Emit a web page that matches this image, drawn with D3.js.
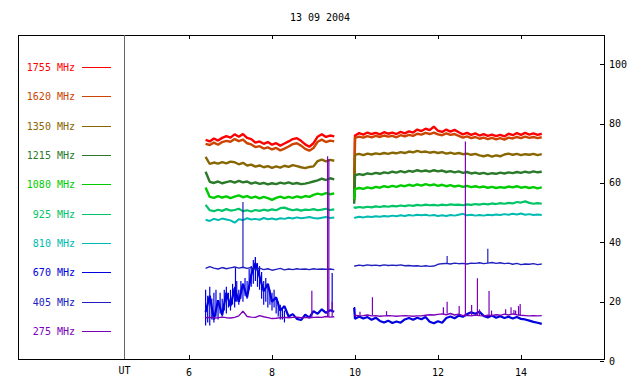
<!DOCTYPE html>
<html>
<head>
<meta charset="utf-8">
<script src="https://cdn.jsdelivr.net/npm/d3@7"></script>
<style>
  body { margin: 0; background: #fff; }
  text { font-family: "DejaVu Sans Mono", monospace; font-size: 10px; }
</style>
</head>
<body>
<script>
// canvas and frame magic numbers
var w = 640;
var h = 384;
var frameLeft = 18, frameRight = 604, frameTop = 35, frameBottom = 359;
var sepX = 124;

// chart data
var title = "13 09 2004";
var freqs = ["1755", "1620", "1350", "1215", "1080", "925", "810", "670", "405", "275"];
var colors = ["#ff0000", "#cc4400", "#886600", "#2a7a2a", "#00cc00", "#00c466", "#00bbb0", "#0000e0", "#2020c0", "#7a00bb"];
var widths = [2.4, 2.4, 2.4, 2.4, 2.4, 2.2, 2.0, 2.2, 1.4, 1.4];
var xTicks = [6, 8, 10, 12, 14];
var yTicks = [0, 20, 40, 60, 80, 100];

// UT hours, first and second recording block
var t1 = [6.4, 6.5, 6.6, 6.7, 6.8, 6.9, 7.0, 7.1, 7.2, 7.3, 7.4, 7.5, 7.6, 7.7, 7.8, 7.9,
          8.0, 8.1, 8.2, 8.3, 8.4, 8.5, 8.6, 8.7, 8.8, 8.9, 9.0, 9.1, 9.2, 9.3, 9.4, 9.5];
var t2 = [9.98, 10.0, 10.1, 10.2, 10.3, 10.4, 10.5, 10.6, 10.7, 10.8, 10.9, 11.0, 11.1, 11.2, 11.3, 11.4,
          11.5, 11.6, 11.7, 11.8, 11.9, 12.0, 12.1, 12.2, 12.3, 12.4, 12.5, 12.6, 12.7, 12.8, 12.9, 13.0,
          13.1, 13.2, 13.3, 13.4, 13.5, 13.6, 13.7, 13.8, 13.9, 14.0, 14.1, 14.2, 14.3, 14.4, 14.5];

var s1755a = [74.5, 74.0, 75.0, 74.3, 75.2, 75.8, 75.3, 76.4, 75.6, 76.5, 75.2, 74.8, 73.6, 74.0, 73.2, 73.8,
              72.9, 73.4, 72.6, 73.3, 74.0, 74.8, 75.1, 74.2, 73.0, 72.2, 73.4, 75.6, 76.4, 75.5, 76.0, 75.7];
var s1755b = [55.0, 76.0, 76.8, 76.3, 77.0, 76.5, 76.9, 76.4, 77.1, 76.6, 77.0, 76.5, 77.2, 76.7, 77.4, 77.0,
              78.0, 77.5, 78.3, 77.8, 79.0, 77.6, 77.2, 78.0, 77.3, 77.9, 77.1, 76.4, 76.9, 76.2, 76.7, 76.0,
              76.5, 75.9, 76.3, 75.8, 76.2, 75.7, 76.6, 76.1, 76.8, 76.2, 76.9, 76.3, 76.7, 76.2, 76.6];

var s1620a = [73.2, 72.8, 73.6, 72.9, 73.8, 74.2, 73.9, 74.8, 74.1, 74.6, 73.4, 73.0, 72.1, 72.4, 71.6, 72.0,
              71.3, 71.8, 71.0, 71.6, 72.3, 73.1, 73.4, 72.6, 71.5, 70.9, 71.8, 73.9, 74.6, 73.8, 74.3, 74.0];
var s1620b = [54.0, 75.2, 75.6, 75.3, 75.8, 75.4, 75.9, 75.5, 76.0, 75.6, 75.9, 75.4, 76.1, 75.7, 76.2, 75.9,
              76.6, 76.3, 76.9, 76.5, 77.0, 76.4, 76.1, 76.7, 76.2, 76.5, 75.9, 75.3, 75.7, 75.1, 75.5, 74.9,
              75.3, 74.8, 75.2, 74.7, 75.1, 74.6, 75.3, 75.0, 75.5, 75.1, 75.6, 75.2, 75.5, 75.1, 75.4];

var s1350a = [68.8, 66.4, 66.9, 66.5, 67.0, 66.6, 67.2, 67.0, 66.3, 66.8, 65.9, 66.2, 65.5, 65.9, 65.3, 65.7,
              65.1, 65.6, 65.2, 65.8, 65.4, 66.0, 65.7, 65.3, 65.0, 65.4, 65.6, 67.4, 67.9, 67.3, 67.8, 67.5];
var s1350b = [55.0, 69.5, 69.8, 69.4, 69.9, 69.6, 70.0, 69.7, 70.1, 69.8, 70.2, 70.0, 70.4, 70.1, 70.6, 70.3,
              70.8, 70.4, 70.6, 70.2, 70.5, 70.1, 70.4, 69.9, 70.2, 69.8, 70.1, 69.7, 69.9, 69.5, 69.8, 69.3,
              69.0, 69.4, 68.9, 69.3, 69.0, 69.6, 69.9, 69.5, 69.8, 69.4, 69.7, 69.5, 69.8, 69.4, 69.7];

var s1215a = [63.8, 60.4, 60.0, 60.5, 59.9, 60.3, 60.6, 60.1, 60.7, 60.2, 60.5, 59.8, 60.2, 59.7, 60.0, 59.5,
              59.9, 59.6, 60.1, 59.8, 60.2, 59.7, 60.0, 59.6, 59.8, 60.1, 60.5, 60.9, 61.5, 61.0, 61.6, 61.2];
var s1215b = [53.0, 62.6, 63.0, 62.7, 63.2, 63.0, 63.4, 63.1, 63.6, 63.3, 63.8, 63.5, 64.0, 63.6, 64.1, 63.8,
              64.3, 63.9, 64.2, 63.8, 64.3, 63.9, 64.2, 63.7, 64.0, 63.6, 63.9, 63.4, 63.7, 63.2, 63.5, 63.1,
              63.4, 63.0, 63.3, 63.1, 63.5, 63.2, 63.6, 63.3, 63.7, 63.4, 63.8, 63.5, 63.9, 63.6, 63.8];

var s1080a = [58.5, 55.3, 55.0, 55.6, 55.1, 55.5, 54.9, 55.4, 55.8, 55.2, 55.6, 55.0, 55.4, 54.8, 55.3, 54.9,
              54.3, 55.0, 55.4, 54.9, 55.3, 55.0, 55.5, 55.1, 55.6, 55.3, 56.0, 56.4, 56.1, 56.6, 56.2, 56.5];
var s1080b = [54.5, 57.9, 58.3, 58.0, 58.5, 58.2, 58.7, 58.4, 58.9, 58.6, 59.0, 58.7, 59.2, 58.9, 59.4, 59.0,
              59.5, 59.1, 59.6, 59.2, 59.5, 59.0, 59.4, 58.9, 59.3, 58.8, 59.1, 58.7, 59.0, 58.6, 58.9, 58.5,
              58.8, 58.4, 58.7, 58.3, 58.6, 58.4, 58.8, 58.5, 58.9, 58.4, 58.7, 58.3, 58.6, 58.2, 58.5];

var s925a = [52.6, 50.8, 50.5, 51.0, 50.6, 51.2, 50.7, 50.9, 51.3, 50.5, 50.8, 50.4, 50.9, 50.6, 51.0, 50.7,
             51.1, 50.8, 51.5, 51.7, 51.2, 50.8, 51.1, 50.7, 51.0, 50.9, 51.2, 50.8, 51.0, 51.3, 50.9, 51.1];
var s925b = [52.0, 51.6, 51.9, 51.7, 52.0, 51.8, 52.1, 51.9, 52.2, 52.0, 52.3, 52.1, 52.4, 52.2, 52.5, 52.3,
             52.6, 52.4, 52.7, 52.5, 52.6, 52.4, 52.7, 52.5, 52.8, 52.6, 52.7, 52.5, 52.8, 52.6, 52.9, 52.7,
             53.0, 52.8, 53.1, 52.9, 53.2, 53.0, 53.3, 53.1, 53.6, 53.4, 53.8, 53.3, 53.0, 53.2, 53.0];

var s810a = [47.6, 47.2, 47.9, 47.5, 48.0, 47.7, 47.4, 46.6, 47.8, 47.5, 48.1, 47.7, 47.9, 47.6, 48.2, 47.8,
             48.0, 47.7, 48.1, 47.9, 48.3, 48.0, 48.4, 48.1, 48.3, 48.5, 48.2, 48.0, 48.3, 48.5, 48.2, 48.4];
var s810b = [48.2, 48.3, 48.6, 48.4, 48.7, 48.5, 48.8, 48.6, 48.9, 48.7, 49.0, 48.8, 49.1, 48.9, 49.2, 49.0,
             49.3, 49.1, 49.3, 49.0, 49.2, 48.9, 49.1, 48.9, 49.2, 49.0, 49.3, 49.6, 49.1, 49.3, 49.0, 49.2,
             49.0, 49.3, 49.1, 49.4, 49.2, 49.5, 49.3, 49.6, 49.4, 49.7, 49.3, 49.5, 49.2, 49.4, 49.2];

var s670a = [16.5, 22.0, 14.0, 20.5, 15.5, 23.0, 18.5, 24.5, 20.0, 26.0, 21.5, 29.0, 33.0, 28.5, 23.5, 26.0,
             20.0, 21.5, 17.0, 18.5, 15.0, 15.8, 14.2, 13.8, 15.6, 14.6, 16.8, 15.9, 17.4, 16.2, 17.1, 16.6];
var s670b = [18.0, 14.2, 15.0, 14.3, 14.8, 13.9, 14.6, 13.5, 13.0, 13.6, 12.8, 13.3, 12.9, 14.0, 14.5, 13.9,
             14.6, 14.1, 14.8, 13.2, 12.7, 13.4, 12.9, 14.5, 15.0, 14.4, 15.3, 14.9, 15.8, 16.4, 15.9, 16.6,
             15.2, 14.7, 15.3, 14.6, 15.1, 14.5, 14.9, 14.3, 14.8, 14.2, 14.0, 13.6, 13.2, 12.9, 12.5];
// 670 MHz scatter band in the first block: [UT hour, low, high]
var env670 = [[6.40, 12, 24], [6.45, 13, 22], [6.50, 12, 25], [6.55, 14, 21], [6.60, 13, 23], [6.65, 15, 24],
              [6.70, 14, 20], [6.75, 16, 23], [6.80, 15, 21], [6.85, 17, 24], [6.90, 16, 25], [6.95, 18, 23],
              [7.00, 17, 24], [7.05, 19, 26], [7.10, 18, 25], [7.15, 20, 27], [7.20, 19, 24], [7.25, 21, 27],
              [7.30, 20, 26], [7.35, 22, 28], [7.40, 21, 27], [7.45, 24, 31], [7.50, 25, 32], [7.55, 26, 34],
              [7.60, 27, 35], [7.65, 25, 33], [7.70, 24, 32], [7.75, 21, 30], [7.80, 19, 27], [7.85, 20, 28],
              [7.90, 18, 25], [7.95, 19, 24], [8.00, 17, 23], [8.05, 18, 24], [8.10, 16, 21], [8.15, 15, 20],
              [8.20, 14, 19], [8.25, 14, 18], [8.30, 13, 17]];

var s405a = [31.2, 31.8, 31.3, 31.0, 31.5, 31.1, 31.4, 31.7, 31.3, 31.6, 31.2, 31.5, 31.0, 31.3, 30.8, 31.1,
             30.6, 30.9, 31.2, 30.7, 31.0, 30.8, 31.1, 30.9, 31.0, 30.8, 31.1, 30.9, 31.0, 30.9, 31.0, 30.8];
var s405b = [32.0, 32.0, 32.3, 32.1, 32.4, 32.2, 32.3, 32.1, 32.4, 32.2, 32.3, 32.2, 32.4, 32.1, 32.2, 32.0,
             32.1, 31.9, 32.1, 31.9, 32.0, 32.6, 32.8, 32.9, 32.7, 33.0, 32.8, 32.9, 32.7, 33.0, 32.9, 33.1,
             32.8, 33.0, 33.2, 32.9, 33.1, 32.8, 33.0, 32.6, 32.9, 32.5, 32.7, 32.6, 32.8, 32.5, 32.7];

var s275a = [14.6, 14.7, 14.5, 14.6, 14.8, 14.6, 14.5, 14.7, 15.2, 16.8, 15.0, 14.8, 14.7, 15.3, 14.9, 14.6,
             14.3, 14.4, 14.6, 14.7, 14.6, 14.7, 14.8, 14.6, 14.7, 14.6, 14.7, 14.8, 14.7, 15.0, 14.8, 14.9];
var s275b = [15.5, 15.4, 15.2, 15.3, 15.5, 15.2, 15.3, 15.1, 15.2, 15.3, 15.2, 15.1, 15.2, 15.3, 15.2, 15.1,
             15.2, 15.2, 15.4, 15.6, 15.5, 15.7, 15.9, 15.6, 16.0, 15.5, 15.8, 15.3, 15.4, 15.2, 15.5, 15.3,
             15.2, 15.4, 15.3, 15.6, 15.4, 15.8, 15.5, 15.9, 15.6, 15.4, 15.3, 15.2, 15.3, 15.2, 15.3];

// short bursts: [UT hour, peak value]
var spikes670 = [[7.12, 31.7], [7.60, 35.0], [9.45, 29.7], [9.99, 18.2]];
var spikes405 = [[7.30, 53.6], [12.22, 35.4], [13.20, 37.8]];
var spikes275 = [[8.96, 23.7], [9.34, 69.0], [9.37, 68.0], [9.45, 20.0], [10.12, 16.6], [10.42, 21.5],
                 [10.76, 16.8], [12.13, 18.1], [12.22, 20.0], [12.51, 18.5], [12.66, 74.0], [12.81, 18.9],
                 [12.95, 27.9], [13.00, 17.4], [13.23, 23.6], [13.29, 17.0], [13.63, 17.4], [13.76, 18.1],
                 [13.83, 17.2], [13.87, 17.0], [13.94, 18.5], [13.98, 19.2]];

// build series table
var seriesA = [s1755a, s1620a, s1350a, s1215a, s1080a, s925a, s810a, s670a, s405a, s275a];
var seriesB = [s1755b, s1620b, s1350b, s1215b, s1080b, s925b, s810b, s670b, s405b, s275b];
var spikeSets = [[], [], [], [], [], [], [], spikes670, spikes405, spikes275];
var envSets = [[], [], [], [], [], [], [], env670, [], []];

var series = freqs.map(function(f, i) {
    return {
        name: f + " MHz",
        color: colors[i],
        width: widths[i],
        a: t1.map(function(t, j) { return [t, seriesA[i][j]]; }),
        b: t2.map(function(t, j) { return [t, seriesB[i][j]]; }),
        spikes: spikeSets[i],
        env: envSets[i]
    };
});

var x = d3.scaleLinear().domain([6, 14]).range([189, 521]);
var y = d3.scaleLinear().domain([0, 100]).range([361, 64.3]);

var svg = d3.select("body").append("svg")
    .attr("width", w)
    .attr("height", h);

// title
svg.append("text")
    .attr("x", 320)
    .attr("y", 21)
    .attr("text-anchor", "middle")
    .attr("fill", "#000")
    .text(title);

// frame
svg.append("rect")
    .attr("x", frameLeft + 0.5)
    .attr("y", frameTop + 0.5)
    .attr("width", frameRight - frameLeft)
    .attr("height", frameBottom - frameTop)
    .attr("fill", "none")
    .attr("stroke", "#000")
    .attr("stroke-width", 1);

svg.append("line")
    .attr("x1", sepX + 0.5).attr("x2", sepX + 0.5)
    .attr("y1", frameTop).attr("y2", frameBottom)
    .attr("stroke", "#666");

// x ticks, top and bottom, pointing inwards
svg.selectAll("line.xtb")
    .data(xTicks)
    .enter().append("line")
    .attr("class", "xtb")
    .attr("x1", function(d) { return Math.round(x(d)) + 0.5; })
    .attr("x2", function(d) { return Math.round(x(d)) + 0.5; })
    .attr("y1", frameBottom)
    .attr("y2", frameBottom - 4)
    .attr("stroke", "#000");

svg.selectAll("line.xtt")
    .data(xTicks)
    .enter().append("line")
    .attr("class", "xtt")
    .attr("x1", function(d) { return Math.round(x(d)) + 0.5; })
    .attr("x2", function(d) { return Math.round(x(d)) + 0.5; })
    .attr("y1", frameTop)
    .attr("y2", frameTop + 4)
    .attr("stroke", "#000");

svg.selectAll("text.xl")
    .data(xTicks)
    .enter().append("text")
    .attr("class", "xl")
    .attr("x", function(d) { return x(d); })
    .attr("y", 376)
    .attr("text-anchor", "middle")
    .text(function(d) { return d; });

svg.append("text")
    .attr("x", sepX + 0.5)
    .attr("y", 374)
    .attr("text-anchor", "middle")
    .text("UT");

// right y axis
svg.selectAll("line.yt")
    .data(yTicks)
    .enter().append("line")
    .attr("class", "yt")
    .attr("x1", frameRight - 4)
    .attr("x2", frameRight)
    .attr("y1", function(d) { return Math.round(y(d)) + 0.5; })
    .attr("y2", function(d) { return Math.round(y(d)) + 0.5; })
    .attr("stroke", "#000");

svg.selectAll("text.yl")
    .data(yTicks)
    .enter().append("text")
    .attr("class", "yl")
    .attr("x", frameRight + 5)
    .attr("y", function(d) { return y(d); })
    .attr("dy", "0.35em")
    .text(function(d) { return d; });

// legend
var legendTop = 67, legendStep = 29.33;
var legend = svg.selectAll("g.legend")
    .data(series)
    .enter().append("g")
    .attr("class", "legend")
    .attr("transform", function(d, i) { return "translate(0," + Math.round(legendTop + i * legendStep) + ")"; });

legend.append("text")
    .attr("x", 75)
    .attr("y", 0)
    .attr("dy", "0.35em")
    .attr("text-anchor", "end")
    .attr("fill", function(d) { return d.color; })
    .text(function(d) { return d.name; });

legend.append("line")
    .attr("x1", 82).attr("x2", 111)
    .attr("y1", 0.5).attr("y2", 0.5)
    .attr("stroke", function(d) { return d.color; });

// data lines
var line = d3.line()
    .x(function(d) { return x(d[0]); })
    .y(function(d) { return y(d[1]); });

var bisect = d3.bisector(function(d) { return d[0]; }).left;

function baseAt(s, t) {
    var pts = t < 9.8 ? s.a : s.b;
    var i = Math.min(bisect(pts, t), pts.length - 1);
    return pts[i][1];
}

series.forEach(function(s) {
    var g = svg.append("g");
    g.selectAll("line.env")
        .data(s.env)
        .enter().append("line")
        .attr("class", "env")
        .attr("x1", function(d) { return x(d[0]); })
        .attr("x2", function(d) { return x(d[0]); })
        .attr("y1", function(d) { return y(d[1]); })
        .attr("y2", function(d) { return y(d[2]); })
        .attr("stroke", s.color)
        .attr("stroke-width", 1.2);
    [s.a, s.b].forEach(function(seg) {
        g.append("path")
            .attr("d", line(seg))
            .attr("fill", "none")
            .attr("stroke", s.color)
            .attr("stroke-width", s.width)
            .attr("stroke-linejoin", "bevel");
    });
    g.selectAll("line.spike")
        .data(s.spikes)
        .enter().append("line")
        .attr("class", "spike")
        .attr("x1", function(d) { return x(d[0]); })
        .attr("x2", function(d) { return x(d[0]); })
        .attr("y1", function(d) { return y(baseAt(s, d[0])); })
        .attr("y2", function(d) { return y(d[1]); })
        .attr("stroke", s.color)
        .attr("stroke-width", 1.2);
});
</script>
</body>
</html>
